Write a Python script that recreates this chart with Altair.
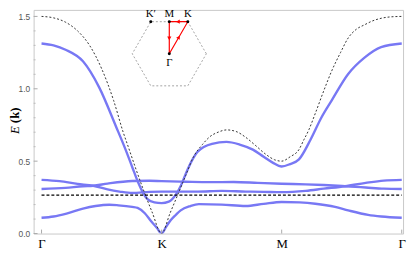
import json
import altair as alt
import pandas as pd
import numpy as np

# path coordinate along Γ-K-M-Γ (each leg one unit)
tick_pos = [0, 1, 2, 3]
tick_lab = ["Γ", "K", "M", "Γ"]
y_ticks = [0.0, 0.5, 1.0, 1.5]
y_minor = [0.1, 0.2, 0.3, 0.4, 0.6, 0.7, 0.8, 0.9, 1.1, 1.2, 1.3, 1.4]

# dashed (bare) dispersion
dash_x = [0, 0.1, 0.2, 0.3, 0.4, 0.5, 0.6, 0.68, 0.722, 0.78, 0.845, 0.92, 1.0,
          1.07, 1.132, 1.2, 1.269, 1.34, 1.405, 1.47, 1.542, 1.62, 1.7, 1.78, 1.87, 1.94, 2.0,
          2.07, 2.144, 2.185, 2.226, 2.28, 2.35, 2.417, 2.49, 2.554, 2.62, 2.69, 2.76, 2.828, 2.91, 3.0]
dash_E = [1.5, 1.49, 1.46, 1.40, 1.30, 1.14, 0.92, 0.70, 0.60, 0.46, 0.31, 0.15, 0.0,
          0.14, 0.263, 0.40, 0.535, 0.615, 0.671, 0.70, 0.716, 0.705, 0.665, 0.61, 0.546, 0.51, 0.50,
          0.53, 0.58, 0.648, 0.716, 0.83, 0.985, 1.124, 1.25, 1.351, 1.41, 1.442, 1.47, 1.487, 1.497, 1.5]

# polariton bands
up_x = [0, 0.1, 0.2, 0.345, 0.48, 0.62, 0.7, 0.755, 0.804, 0.84, 0.88, 0.94, 1.0, 1.06, 1.12,
        1.16, 1.2, 1.25, 1.3, 1.42, 1.54, 1.65, 1.76, 1.85, 1.925, 2.0, 2.07, 2.144, 2.24, 2.33,
        2.417, 2.554, 2.69, 2.828, 3.0]
up_E = [1.313, 1.30, 1.27, 1.19, 1.01, 0.74, 0.58, 0.46, 0.354, 0.29, 0.24, 0.215, 0.21, 0.22, 0.27,
        0.33, 0.41, 0.50, 0.565, 0.62, 0.633, 0.615, 0.58, 0.53, 0.49, 0.463, 0.48, 0.512, 0.648, 0.80,
        0.92, 1.102, 1.215, 1.288, 1.313]

a_x = [0, 0.15, 0.3, 0.43, 0.55, 0.65, 0.755, 0.9, 1.0, 1.1, 1.3, 1.5, 1.7, 1.85, 2.0,
       2.2, 2.35, 2.527, 2.7, 2.85, 3.0]
a_E = [0.371, 0.362, 0.343, 0.33, 0.305, 0.29, 0.28, 0.288, 0.29, 0.29, 0.29, 0.295, 0.29, 0.288, 0.286,
       0.295, 0.31, 0.327, 0.35, 0.366, 0.371]

b_x = [0, 0.2, 0.345, 0.43, 0.55, 0.755, 0.9, 1.0, 1.2, 1.4, 1.6, 1.8, 2.0, 2.2, 2.35,
       2.527, 2.7, 2.85, 3.0]
b_E = [0.308, 0.315, 0.327, 0.33, 0.345, 0.363, 0.365, 0.362, 0.358, 0.355, 0.356, 0.35, 0.344, 0.34, 0.335,
       0.327, 0.318, 0.31, 0.308]

low_x = [0, 0.1, 0.208, 0.345, 0.45, 0.564, 0.64, 0.755, 0.8, 0.86, 0.913, 0.96, 1.0, 1.04, 1.077,
         1.12, 1.159, 1.24, 1.31, 1.5, 1.7, 1.85, 2.0, 2.15, 2.28, 2.445, 2.554, 2.72, 2.83, 3.0]
low_E = [0.109, 0.118, 0.138, 0.172, 0.19, 0.199, 0.195, 0.184, 0.177, 0.14, 0.085, 0.04, 0.0, 0.05, 0.093,
         0.13, 0.16, 0.19, 0.203, 0.2, 0.19, 0.205, 0.218, 0.215, 0.206, 0.184, 0.16, 0.129, 0.118, 0.109]

flat_E = 0.265

# ---------- layout ----------
W, H = 375, 227
xdom = [-0.066, 3.011]
ydom = [0.0, 1.545]
xs = alt.Scale(domain=xdom, nice=False, zero=False)
ys = alt.Scale(domain=ydom, nice=False, zero=False)
BLUE = "#7878f4"

bands = []
for name, bx, be in [("up", up_x, up_E), ("a", a_x, a_E), ("b", b_x, b_E), ("low", low_x, low_E)]:
    for i, (x, e) in enumerate(zip(bx, be)):
        bands.append({"x": x, "E": e, "band": name, "i": i})
bands = pd.DataFrame(bands)
dashdf = pd.DataFrame({"x": dash_x, "E": dash_E, "i": range(len(dash_x))})
flatdf = pd.DataFrame({"x": [0, 3], "E": [flat_E, flat_E]})

X = alt.X("x:Q", scale=xs, axis=alt.Axis(values=tick_pos, title=None, grid=False, domain=False, ticks=False,
                                        labelExpr=json.dumps(tick_lab) + "[datum.value]",
                                        labelFont="Liberation Serif", labelFontSize=13, labelColor="#000",
                                        labelPadding=4))
Y = alt.Y("E:Q", scale=ys, axis=alt.Axis(values=y_ticks, format=".1f", title=None, grid=False, domain=False,
                                        ticks=False, labelFont="Liberation Sans", labelFontSize=8.5,
                                        labelColor="#555", labelPadding=4))

band_layer = alt.Chart(bands).mark_line(color=BLUE, strokeWidth=2.4, interpolate="monotone", clip=True).encode(
    x=X, y=Y, detail="band:N", order="i:Q")
dash_layer = alt.Chart(dashdf).mark_line(color="#333", strokeWidth=1, strokeDash=[2, 2], interpolate="monotone",
                                         clip=True).encode(x=alt.X("x:Q", scale=xs), y=alt.Y("E:Q", scale=ys), order="i:Q")
flat_layer = alt.Chart(flatdf).mark_line(color="#000", strokeWidth=1.2, strokeDash=[3, 2]).encode(
    x=alt.X("x:Q", scale=xs), y=alt.Y("E:Q", scale=ys))

# inward ticks
ymaj = alt.Chart(pd.DataFrame({"E": y_ticks})).mark_rule(color="#aaa").encode(
    y=alt.Y("E:Q", scale=ys), x=alt.value(0), x2=alt.value(4))
ymin = alt.Chart(pd.DataFrame({"E": y_minor})).mark_rule(color="#bbb").encode(
    y=alt.Y("E:Q", scale=ys), x=alt.value(0), x2=alt.value(2))
xmaj = alt.Chart(pd.DataFrame({"x": tick_pos})).mark_rule(color="#aaa").encode(
    x=alt.X("x:Q", scale=xs), y=alt.value(H), y2=alt.value(H - 4))

# ---------- inset Brillouin zone ----------
cx, cy = 1.064, 1.242
rx, ry = 0.3085, 0.2558
ang = np.deg2rad(np.arange(0, 361, 60))
hexdf = pd.DataFrame({"x": cx + rx * np.cos(ang), "E": cy + ry * np.sin(ang), "i": range(len(ang))})
s3 = np.sqrt(3) / 2
Kp = (cx - rx / 2, cy + ry * s3)
Kv = (cx + rx / 2, cy + ry * s3)
Mv = (cx, cy + ry * s3)
Gv = (cx, cy)
pathdf = pd.DataFrame({"x": [Gv[0], Kv[0], Mv[0], Gv[0]], "E": [Gv[1], Kv[1], Mv[1], Gv[1]], "i": [0, 1, 2, 3]})
arrows = pd.DataFrame({
    "x": [(Gv[0] + Kv[0]) / 2, (Kv[0] + Mv[0]) / 2, (Mv[0] + Gv[0]) / 2],
    "E": [(Gv[1] + Kv[1]) / 2, (Kv[1] + Mv[1]) / 2, (Mv[1] + Gv[1]) / 2],
    "ang": [30, 270, 180]})
pts = pd.DataFrame({"x": [Kp[0], Mv[0], Kv[0], Gv[0]], "E": [Kp[1], Mv[1], Kv[1], Gv[1]],
                    "lab": ["K′", "M", "K", "Γ"], "dy": [-8, -8, -8, 9]})

hex_layer = alt.Chart(hexdf).mark_line(color="#999", strokeWidth=0.9, strokeDash=[2, 2]).encode(
    x=alt.X("x:Q", scale=xs), y=alt.Y("E:Q", scale=ys), order="i:Q")
path_layer = alt.Chart(pathdf).mark_line(color="#f00", strokeWidth=1.2).encode(
    x=alt.X("x:Q", scale=xs), y=alt.Y("E:Q", scale=ys), order="i:Q")
arrow_layer = alt.Chart(arrows).mark_point(shape="triangle", filled=True, color="#f00", size=18, opacity=1).encode(
    x=alt.X("x:Q", scale=xs), y=alt.Y("E:Q", scale=ys), angle=alt.Angle("ang:Q", scale=None))
dot_layer = alt.Chart(pts).mark_circle(color="#000", size=9, opacity=1).encode(
    x=alt.X("x:Q", scale=xs), y=alt.Y("E:Q", scale=ys))
lab_top = alt.Chart(pts[pts.dy < 0]).mark_text(font="Liberation Serif", fontSize=11, color="#000", dy=-8).encode(
    x=alt.X("x:Q", scale=xs), y=alt.Y("E:Q", scale=ys), text="lab:N")
lab_bot = alt.Chart(pts[pts.dy > 0]).mark_text(font="Liberation Serif", fontSize=11, color="#000", dy=9).encode(
    x=alt.X("x:Q", scale=xs), y=alt.Y("E:Q", scale=ys), text="lab:N")

# y-axis title E(k)
t1 = alt.Chart(pd.DataFrame({"t": ["E"]})).mark_text(font="Liberation Serif", fontStyle="italic", fontSize=13,
                                                    angle=270, color="#000").encode(
    text="t:N", x=alt.value(-19), y=alt.value(122))
t2 = alt.Chart(pd.DataFrame({"t": ["(k)"]})).mark_text(font="Liberation Serif", fontWeight="bold", fontSize=13,
                                                      angle=270, color="#000").encode(
    text="t:N", x=alt.value(-19), y=alt.value(107))

chart = alt.layer(band_layer, hex_layer, path_layer, arrow_layer, dot_layer, lab_top, lab_bot,
                  dash_layer, flat_layer, ymaj, ymin, xmaj, t1, t2).properties(
    width=W, height=H,
    padding={"left": 26, "top": 0, "right": 4, "bottom": 30},
    autosize=alt.AutoSizeParams(type="none"),
).configure_view(stroke="#c8c8c8", strokeWidth=1)

chart.save("out.html", embed_options={"renderer": "svg", "actions": False})
